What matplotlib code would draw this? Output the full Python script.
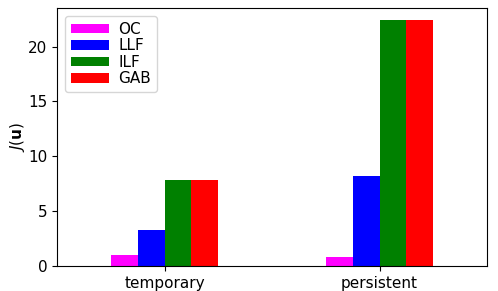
import matplotlib
matplotlib.use('Agg')
import matplotlib.pyplot as plt
import numpy as np

# Dados
categorias = ['temporary', 'persistent']
series = ['OC', 'LLF', 'ILF', 'GAB']
cores = ['magenta', 'blue', 'green', 'red']
oc = [1.0, 0.79]
llf = [3.25, 8.17]
ilf = [7.84, 22.4]
gab = [7.84, 22.4]
valores = [oc, llf, ilf, gab]

fig = plt.figure(figsize=(4.98, 2.91), dpi=100)
ax = fig.add_axes([0.1145, 0.086, 0.8635, 0.8865])

x = np.arange(len(categorias))
largura = 0.125
for i, (nome, vals, cor) in enumerate(zip(series, valores, cores)):
    ax.bar(x + (i - 1.5) * largura, vals, largura, color=cor, label=nome)

ax.set_xlim(-0.5, 1.5)
ax.set_ylim(0, max(max(v) for v in valores) * 1.05)
ax.set_xticks(x)
ax.set_xticklabels(categorias, fontsize=11)
ax.tick_params(axis='y', labelsize=11)
ax.set_ylabel(r'$J(\mathbf{u})$', fontsize=11, labelpad=1)
ax.legend(loc='upper left', fontsize=11, labelspacing=0.1, handleheight=0.6,
          handlelength=2.5, handletextpad=0.6, borderaxespad=0.5)

fig.savefig('out.png', dpi=100)
